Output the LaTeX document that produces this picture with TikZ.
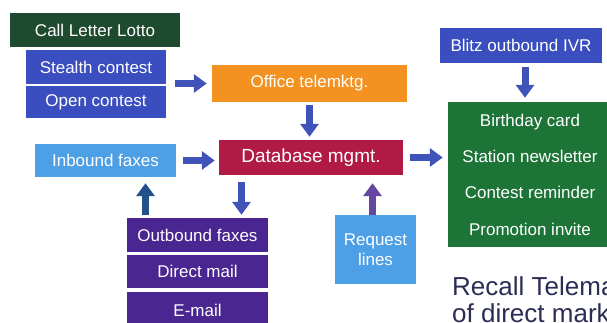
\documentclass[tikz,border=0pt]{standalone}
\usepackage{fontspec}
\setmainfont{Liberation Sans}
\usetikzlibrary{arrows.meta}

\definecolor{lottogreen}{HTML}{1E4A2F}
\definecolor{contestblue}{HTML}{3A4EC0}
\definecolor{officeorange}{HTML}{F39221}
\definecolor{dbred}{HTML}{B01A45}
\definecolor{faxblue}{HTML}{4D9FE6}
\definecolor{mailpurple}{HTML}{4A2690}
\definecolor{promogreen}{HTML}{1D7437}
\definecolor{arrowblue}{HTML}{3F53B8}
\definecolor{recallnavy}{HTML}{2B2D55}

\begin{document}
\begin{tikzpicture}[x=1pt,y=-1pt,
	box/.style={fill=#1,text=white,inner sep=0pt,font=\fontsize{17}{20}\selectfont},
	fat/.style={line width=7pt,draw=arrowblue,-{Triangle[width=18pt,length=13pt]}}]
	\useasboundingbox (0,0) rectangle (607,323);
	\clip (0,0) rectangle (607,323);

	% left column
	\node[box=lottogreen,minimum width=170,minimum height=34] (lotto) at (95,30) {Call Letter Lotto};
	\node[box=contestblue,minimum width=140,minimum height=34] (stealth) at (96,67) {Stealth contest};
	\node[box=contestblue,minimum width=140,minimum height=32] (open) at (96,102) {Open contest};
	\node[box=faxblue,minimum width=141,minimum height=33] (inbound) at (105.5,160.5) {Inbound faxes};

	% middle
	\node[box=officeorange,minimum width=195,minimum height=37] (office) at (309.5,83.5) {Office telemktg.};
	\node[box=dbred,minimum width=184,minimum height=35,font=\fontsize{19}{22}\selectfont] (database) at (311,157.5) {Database mgmt.};
	\node[box=mailpurple,minimum width=141,minimum height=34] (outbound) at (197.5,235) {Outbound faxes};
	\node[box=mailpurple,minimum width=141,minimum height=33] (direct) at (197.5,271.5) {Direct mail};
	\node[box=mailpurple,minimum width=141,minimum height=36] (email) at (197.5,310) {E-mail};
	\node[box=faxblue,minimum width=81,minimum height=69,align=center,font=\fontsize{17}{20}\selectfont] (request) at (375.5,249.5) {Request\\lines};

	% right column
	\node[box=contestblue,minimum width=162,minimum height=35] (blitz) at (521,45.5) {Blitz outbound IVR};
	\node[box=promogreen,minimum width=164,minimum height=145,align=center,font=\fontsize{17}{36.3}\selectfont] (promo) at (530,174.5)
		{Birthday card\\Station newsletter\\Contest reminder\\Promotion invite};
	\node[anchor=north west,align=left,text=recallnavy,inner sep=0pt,font=\fontsize{26}{27}\selectfont] (recall) at (452,276)
		{Recall Telemarketing\\of direct marketing};

	% arrows
	\draw[fat,shorten <=9pt,shorten >=5pt] (office.west -| open.east) -- (office.west);
	\draw[fat,shorten <=3pt,shorten >=3pt] (office.south) -- (office.south |- database.north);
	\draw[fat,shorten <=7pt,shorten >=4pt] (inbound.east) -- (inbound.east -| database.west);
	\draw[fat,shorten <=7pt,shorten >=5pt] (database.east) -- (database.east -| promo.west);
	\draw[fat,shorten <=4pt,shorten >=4pt] ([xshift=4pt]blitz.south) -- ([xshift=4pt]blitz.south |- promo.north);
	\draw[fat,shorten <=7pt,shorten >=3pt] ([xshift=44pt]outbound.north |- database.south) -- ([xshift=44pt]outbound.north);
	\draw[fat,draw=arrowblue!80!cyan!70!black,shorten <=3pt,shorten >=6pt] ([xshift=-52pt]outbound.north) -- ([xshift=-52pt]outbound.north |- inbound.south);
	\draw[fat,draw=mailpurple!85!white,shorten <=0pt,shorten >=8pt] ([xshift=-3pt]request.north) -- ([xshift=-3pt]request.north |- database.south);
\end{tikzpicture}
\end{document}
